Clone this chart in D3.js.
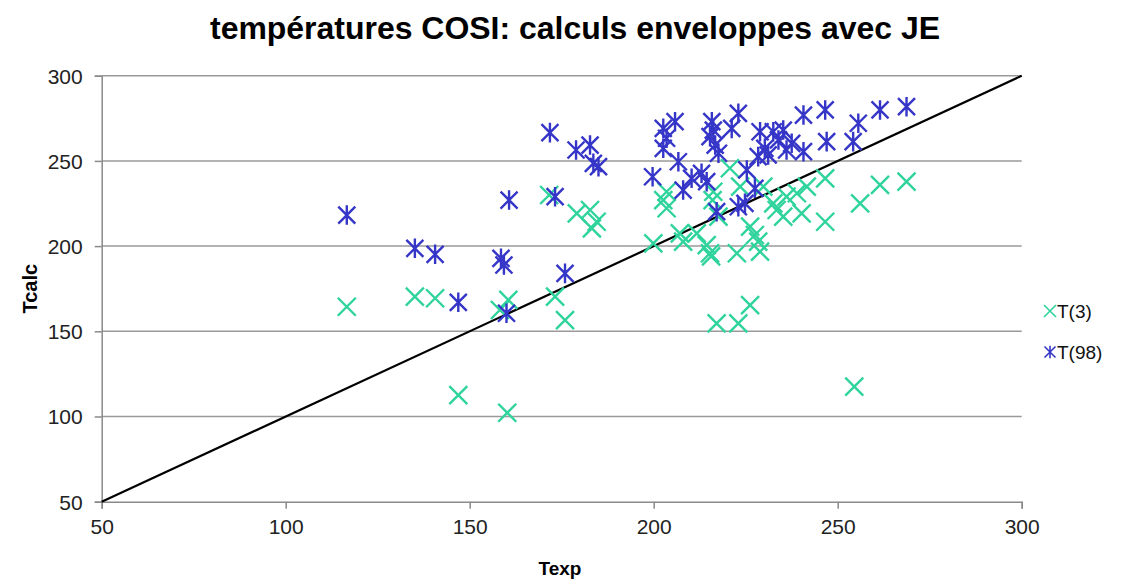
<!DOCTYPE html>
<html>
<head>
<meta charset="utf-8">
<script src="https://cdn.jsdelivr.net/npm/d3@7"></script>
<style>
  html, body { margin: 0; padding: 0; background: #fff; }
  svg { display: block; font-family: "Liberation Sans", Arial, sans-serif; }
</style>
</head>
<body>
<svg id="chart" width="1148" height="582"></svg>
<script>
// Series T(3): experimental vs calculated temperature
const t3Texp  = [116.6, 135.1, 140.6, 146.9, 160.2, 160.5, 158.2, 171.6, 173.2, 175.9, 179.1, 182.7, 184.5, 183.2,
                 199.9, 203.5, 203.5, 202.6, 207.1, 208.0, 211.7, 214.4, 215.3, 215.6, 216.2, 216.0, 217.6, 220.7,
                 222.6, 226.2, 227.5, 228.4, 228.9, 223.5, 229.8, 232.5, 233.4, 235.2, 236.1, 238.9, 240.2, 241.6,
                 246.6, 246.6, 256.1, 261.5, 268.7, 217.1, 223.0, 226.2, 254.5];
const t3Tcalc = [164.4, 170.3, 169.4, 112.6, 102.2, 168.4, 162.5, 230.0, 170.3, 156.6, 219.2, 221.2, 214.3, 210.4,
                 201.6, 231.9, 222.2, 227.0, 207.5, 202.6, 207.5, 200.6, 195.8, 194.0, 231.9, 227.0, 217.3, 245.7,
                 195.8, 211.4, 206.5, 202.6, 196.7, 234.9, 234.9, 225.1, 221.2, 217.3, 229.0, 231.0, 219.2, 234.9,
                 239.8, 214.3, 225.1, 235.9, 237.8, 154.7, 154.7, 165.4, 117.5];

// Series T(98)
const t98Texp  = [116.6, 135.1, 140.6, 146.9, 158.5, 159.3, 160.7, 160.0, 171.8, 173.2, 175.9, 178.9, 182.7, 183.6, 185.0,
                  202.6, 205.8, 203.5, 202.6, 199.7, 206.7, 208.0, 210.3, 213.0, 214.4, 215.8, 216.2, 215.3, 216.7,
                  217.6, 217.1, 221.2, 223.0, 223.0, 224.8, 225.3, 227.5, 228.4, 228.9, 230.2, 231.1, 232.5, 233.9,
                  235.2, 236.1, 237.5, 240.7, 240.7, 246.6, 247.0, 254.2, 255.6, 261.5, 268.7];
const t98Tcalc = [218.2, 198.7, 195.2, 167.0, 192.8, 188.9, 227.0, 160.6, 266.6, 229.0, 184.0, 256.4, 259.3, 248.6, 246.6,
                  269.1, 273.0, 263.3, 257.4, 240.7, 249.5, 232.9, 239.8, 242.7, 237.8, 273.0, 268.1, 264.2, 259.3,
                  254.5, 220.2, 269.1, 277.9, 223.1, 225.1, 244.7, 233.9, 252.5, 267.1, 257.4, 253.5, 267.1, 262.3,
                  268.1, 256.4, 260.3, 255.4, 276.9, 279.9, 261.3, 261.3, 272.1, 279.9, 281.8];

const xTicks = [50, 100, 150, 200, 250, 300];
const yTicks = [50, 100, 150, 200, 250, 300];
const seriesNames = ["T(3)", "T(98)"];
const seriesColors = ["#2fd39c", "#3535c8"];

const svg = d3.select("#chart");
const plot = { left: 101.7, right: 1021.7, top: 75.7, bottom: 501.7 };

const x = d3.scaleLinear().domain([50, 300]).range([plot.left, plot.right]);
const y = d3.scaleLinear().domain([50, 300]).range([plot.bottom, plot.top]);

// Title
svg.append("text")
  .attr("x", 575).attr("y", 39)
  .attr("text-anchor", "middle")
  .attr("font-size", 31).attr("font-weight", "bold")
  .attr("textLength", 730).attr("lengthAdjust", "spacingAndGlyphs")
  .attr("fill", "#000")
  .text("températures COSI: calculs enveloppes avec JE");

// Horizontal gridlines
svg.append("g")
  .selectAll("line")
  .data(yTicks.slice(1))
  .join("line")
  .attr("x1", plot.left).attr("x2", plot.right)
  .attr("y1", d => y(d)).attr("y2", d => y(d))
  .attr("stroke", "#9a9a9a").attr("stroke-width", 1.5);

// Axes
const yAxis = svg.append("g")
  .attr("transform", `translate(${plot.left},0)`)
  .call(d3.axisLeft(y).tickValues(yTicks).tickSize(7).tickPadding(12).tickFormat(d3.format("d")));
const xAxis = svg.append("g")
  .attr("transform", `translate(0,${plot.bottom})`)
  .call(d3.axisBottom(x).tickValues(xTicks).tickSize(7).tickPadding(10).tickFormat(d3.format("d")));

[yAxis, xAxis].forEach(g => {
  g.attr("font-size", 21);
  g.select(".domain").attr("stroke", "#8a8a8a").attr("stroke-width", 1.5);
  g.selectAll(".tick line").attr("stroke", "#8a8a8a").attr("stroke-width", 1.5);
  g.selectAll(".tick text")
    .attr("font-family", "Liberation Sans, Arial, sans-serif")
    .attr("font-size", 21).attr("fill", "#222");
});
yAxis.selectAll(".tick text").attr("dy", "0.35em");

// Axis titles
svg.append("text")
  .attr("x", 560).attr("y", 575)
  .attr("text-anchor", "middle")
  .attr("font-size", 19).attr("font-weight", "bold")
  .text("Texp");
svg.append("text")
  .attr("transform", `translate(37,${(plot.top + plot.bottom) / 2}) rotate(-90)`)
  .attr("text-anchor", "middle")
  .attr("font-size", 20).attr("font-weight", "bold")
  .text("Tcalc");

// Reference line Tcalc = Texp
svg.append("line")
  .attr("x1", x(50)).attr("y1", y(50))
  .attr("x2", x(300)).attr("y2", y(300))
  .attr("stroke", "#000").attr("stroke-width", 2.2);

// Marker shapes: cross for T(3), asterisk for T(98)
function crossPath(s) {
  return `M${-s},${-s}L${s},${s}M${-s},${s}L${s},${-s}`;
}
function starPath(s) {
  return `M${-s},${-s}L${s},${s}M${-s},${s}L${s},${-s}M0,${-s * 1.15}L0,${s * 1.15}`;
}

const t3 = t3Texp.map((v, i) => ({ x: v, y: t3Tcalc[i] }));
const t98 = t98Texp.map((v, i) => ({ x: v, y: t98Tcalc[i] }));

svg.append("g")
  .selectAll("path")
  .data(t3)
  .join("path")
  .attr("transform", d => `translate(${x(d.x)},${y(d.y)})`)
  .attr("d", crossPath(9))
  .attr("fill", "none")
  .attr("stroke", seriesColors[0]).attr("stroke-width", 2.4);

svg.append("g")
  .selectAll("path")
  .data(t98)
  .join("path")
  .attr("transform", d => `translate(${x(d.x)},${y(d.y)})`)
  .attr("d", starPath(8.5))
  .attr("fill", "none")
  .attr("stroke", seriesColors[1]).attr("stroke-width", 2.4);

// Legend
const legend = svg.append("g");
const legendRows = [
  { name: seriesNames[0], color: seriesColors[0], path: crossPath(6), y: 311 },
  { name: seriesNames[1], color: seriesColors[1], path: starPath(5.5), y: 352 }
];
legendRows.forEach(r => {
  legend.append("path")
    .attr("transform", `translate(1050,${r.y})`)
    .attr("d", r.path)
    .attr("fill", "none")
    .attr("stroke", r.color).attr("stroke-width", 1.6);
  legend.append("text")
    .attr("x", 1057).attr("y", r.y)
    .attr("dy", "0.36em")
    .attr("font-size", 19).attr("fill", "#111")
    .text(r.name);
});
</script>
</body>
</html>
